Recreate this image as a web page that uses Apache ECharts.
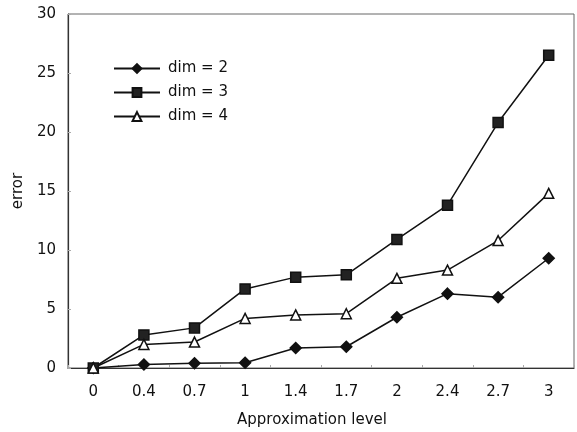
<!DOCTYPE html>
<html>
<head>
<meta charset="utf-8">
<script src="https://cdn.jsdelivr.net/npm/echarts@6/dist/echarts.min.js"></script>
<style>
  html, body { margin: 0; padding: 0; background: #fff; }
  #chart { width: 577px; height: 432px; }
</style>
</head>
<body>
<div id="chart"></div>
<script>
// Approximation levels on the x axis
const levels = ['0', '0.4', '0.7', '1', '1.4', '1.7', '2', '2.4', '2.7', '3'];

// Error per approximation level, one array per dimension
const dim2 = [0, 0.3, 0.4, 0.45, 1.7, 1.8, 4.3, 6.3, 6.0, 9.3];
const dim3 = [0, 2.8, 3.4, 6.7, 7.7, 7.9, 10.9, 13.8, 20.8, 26.5];
const dim4 = [0, 2.0, 2.2, 4.2, 4.5, 4.6, 7.6, 8.3, 10.8, 14.8];

const seriesNames = ['dim = 2', 'dim = 3', 'dim = 4'];
const yTicks = { min: 0, max: 30, interval: 5 };

const font = 'DejaVu Sans, Verdana, sans-serif';
const ink = '#111';

function lineSeries(name, data, symbol, size, fill) {
  return {
    name: name,
    type: 'line',
    data: data,
    symbol: symbol,
    symbolSize: size,
    showAllSymbol: true,
    lineStyle: { color: ink, width: 1.5 },
    itemStyle: { color: fill, borderColor: ink, borderWidth: 1.5 },
    emphasis: { disabled: true },
    animation: false
  };
}

const chart = echarts.init(document.getElementById('chart'), null, { renderer: 'canvas' });
chart.setOption({
  backgroundColor: '#fff',
  animation: false,
  grid: {
    left: 68, right: 3, top: 14, bottom: 64,
    containLabel: false,
    outerBoundsMode: 'none',
    show: true, borderColor: '#666', borderWidth: 1
  },
  legend: {
    orient: 'vertical',
    left: 108,
    top: 56,
    itemWidth: 46,
    itemHeight: 11,
    itemGap: 9,
    data: seriesNames,
    textStyle: { fontFamily: font, fontSize: 15, color: ink, padding: [0, 0, 0, 3] }
  },
  xAxis: {
    type: 'category',
    data: levels,
    boundaryGap: true,
    name: 'Approximation level',
    nameLocation: 'middle',
    nameGap: 45,
    nameTextStyle: { fontFamily: font, fontSize: 15, color: ink, padding: [0, 18, 0, 0] },
    axisLine: { lineStyle: { color: '#333', width: 1.2 } },
    axisTick: { show: true, inside: true, length: 3, lineStyle: { color: '#aaa' } },
    axisLabel: { fontFamily: font, fontSize: 15, color: ink, margin: 17 }
  },
  yAxis: {
    type: 'value',
    min: yTicks.min,
    max: yTicks.max,
    interval: yTicks.interval,
    name: 'error',
    nameLocation: 'middle',
    nameGap: 40,
    nameTextStyle: { fontFamily: font, fontSize: 15, color: ink },
    axisLine: { show: true, lineStyle: { color: '#333', width: 1.2 } },
    axisTick: { show: true, inside: true, length: 3, lineStyle: { color: '#aaa' } },
    axisLabel: { fontFamily: font, fontSize: 15, color: ink, margin: 12 },
    splitLine: { show: false }
  },
  series: [
    lineSeries(seriesNames[0], dim2, 'diamond', 11, ink),
    lineSeries(seriesNames[1], dim3, 'rect', 10, '#222'),
    lineSeries(seriesNames[2], dim4, 'triangle', 10, '#fff')
  ]
});
</script>
</body>
</html>
